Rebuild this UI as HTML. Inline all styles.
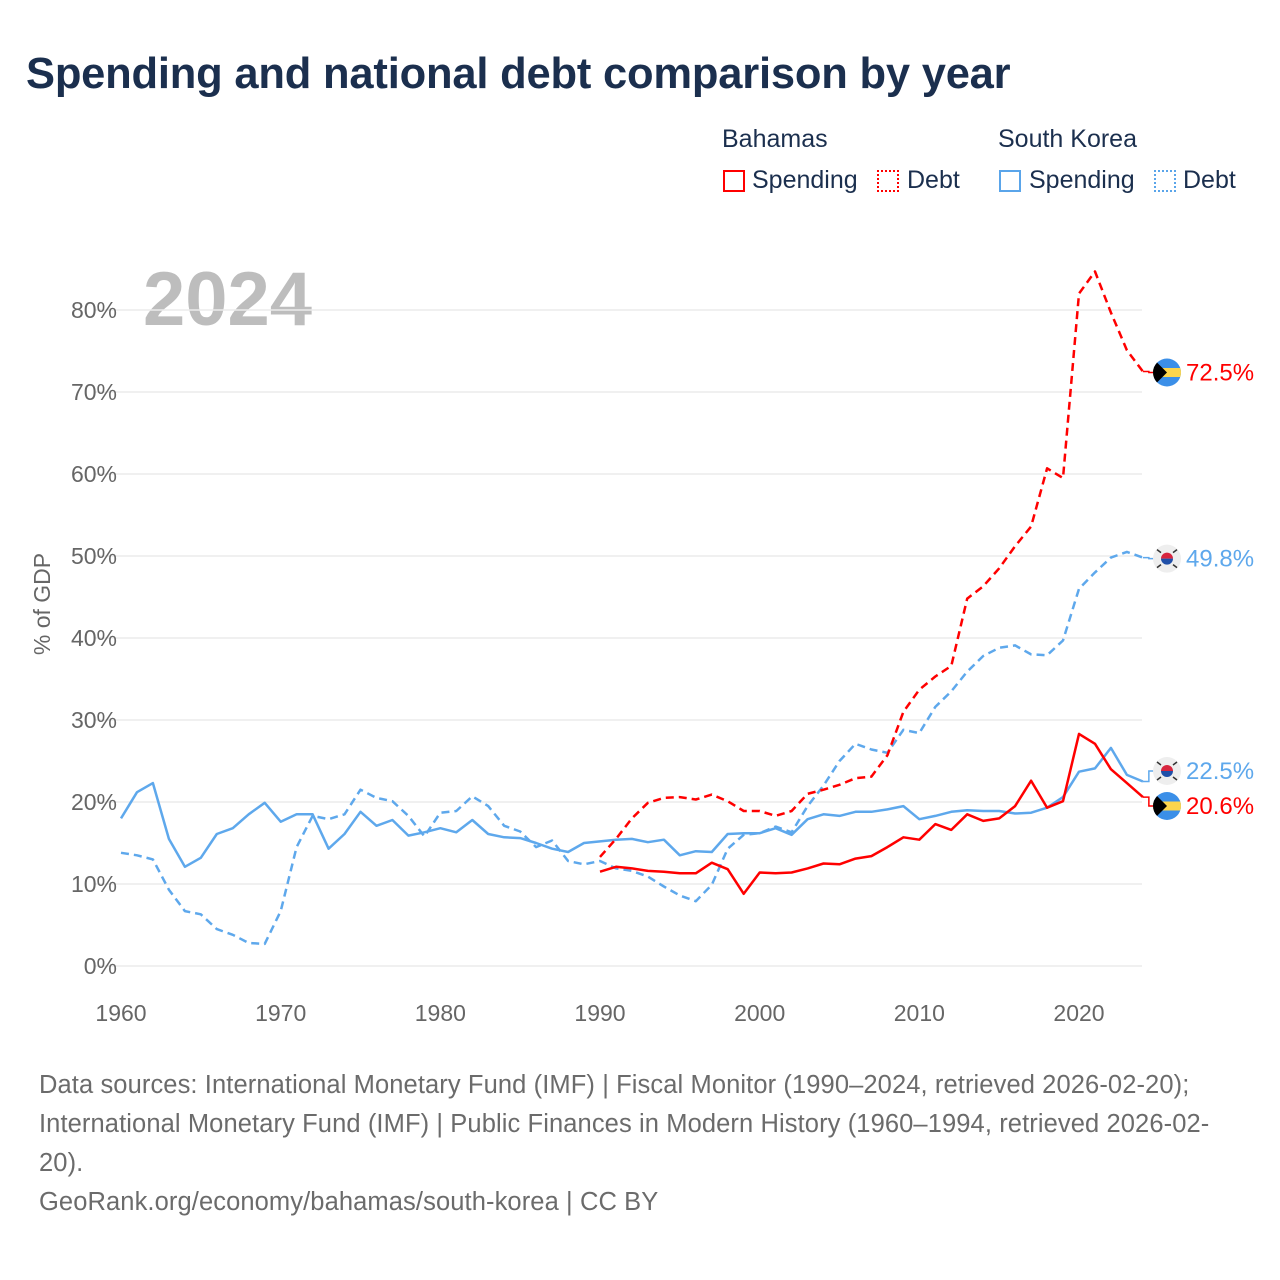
<!DOCTYPE html>
<html><head><meta charset="utf-8"><style>
body{margin:0;background:#fff;font-family:"Liberation Sans",sans-serif;}
#wrap{position:relative;width:1280px;height:1280px;overflow:hidden;}
h1{position:absolute;left:26px;top:50px;margin:0;font-size:43.5px;font-weight:bold;color:#1b2f4e;letter-spacing:-0.2px;}
.lg{position:absolute;font-size:25px;color:#1b2f4e;}
.sw{position:absolute;width:22px;height:22px;box-sizing:border-box;}
#foot{position:absolute;left:39px;top:1066px;width:1230px;font-size:25.5px;line-height:39px;color:#6b6b6b;white-space:nowrap;letter-spacing:0.1px;}
</style></head><body>
<div id="wrap">
<h1>Spending and national debt comparison by year</h1>
<div class="lg" style="left:722px;top:125px">Bahamas</div>
<div class="lg" style="left:998px;top:125px">South Korea</div>
<div class="sw" style="left:723px;top:170px;border:2px solid #f00"></div>
<div class="lg" style="left:752px;top:166px">Spending</div>
<div class="sw" style="left:877px;top:170px;border:2px dotted #f00"></div>
<div class="lg" style="left:907px;top:166px">Debt</div>
<div class="sw" style="left:999px;top:170px;border:2px solid #5aa5ea"></div>
<div class="lg" style="left:1029px;top:166px">Spending</div>
<div class="sw" style="left:1154px;top:170px;border:2px dotted #5aa5ea"></div>
<div class="lg" style="left:1183px;top:166px">Debt</div>
<svg id="chart" width="1280" height="1280" style="position:absolute;left:0;top:0"></svg>
<div id="foot">Data sources: International Monetary Fund (IMF) | Fiscal Monitor (1990–2024, retrieved 2026-02-20);<br>International Monetary Fund (IMF) | Public Finances in Modern History (1960–1994, retrieved 2026-02-<br>20).<br>GeoRank.org/economy/bahamas/south-korea | CC BY</div>
</div>
<script>
const yTicks=[0,10,20,30,40,50,60,70,80];
const xTicks=[1960,1970,1980,1990,2000,2010,2020];
const korStartYear=1960, bahStartYear=1990;
const korSpending=[18.0,21.2,22.3,15.5,12.1,13.2,16.1,16.8,18.5,19.9,17.6,18.5,18.5,14.3,16.1,18.8,17.1,17.8,15.9,16.3,16.8,16.3,17.8,16.1,15.7,15.6,15.0,14.3,13.9,15.0,15.2,15.4,15.5,15.1,15.4,13.5,14.0,13.9,16.1,16.2,16.2,16.8,16.0,17.9,18.5,18.3,18.8,18.8,19.1,19.5,17.9,18.3,18.8,19.0,18.9,18.9,18.6,18.7,19.3,20.6,23.7,24.1,26.6,23.3,22.5];
const korDebt=[13.8,13.5,13.0,9.3,6.7,6.3,4.5,3.8,2.8,2.7,6.7,14.5,18.3,17.9,18.5,21.5,20.5,20.1,18.3,15.8,18.7,18.9,20.7,19.5,17.1,16.4,14.5,15.3,12.8,12.4,12.8,11.9,11.6,10.9,9.7,8.6,7.9,9.9,14.3,16.0,16.2,17.0,16.3,19.5,22.0,25.0,27.1,26.4,26.0,28.8,28.4,31.6,33.5,35.9,37.8,38.8,39.1,38.0,37.9,39.7,46.0,48.0,49.8,50.5,49.8];
const bahSpending=[11.5,12.1,11.9,11.6,11.5,11.3,11.3,12.6,11.8,8.8,11.4,11.3,11.4,11.9,12.5,12.4,13.1,13.4,14.5,15.7,15.4,17.3,16.6,18.5,17.7,18.0,19.5,22.6,19.3,20.1,28.3,27.1,24.0,22.3,20.6];
const bahDebt=[13.3,15.5,18.0,19.9,20.5,20.6,20.3,20.9,20.1,18.9,18.9,18.3,18.9,21.0,21.5,22.1,22.9,23.1,25.7,31.0,33.7,35.3,36.6,44.8,46.3,48.5,51.2,53.6,60.7,59.5,82.0,84.7,79.7,75.1,72.5];
const X=y=>121+(y-1960)*(1079-121)/60;
const Y=v=>966-v*8.2;
const svg=document.getElementById('chart');
const NS='http://www.w3.org/2000/svg';
function mk(t,a){const e=document.createElementNS(NS,t);for(const k in a)e.setAttribute(k,a[k]);svg.appendChild(e);return e;}
const yr=mk('text',{x:143,y:325,'font-size':76,'font-weight':'bold',fill:'#bdbdbd'});yr.textContent='2024';


yTicks.forEach(t=>{
 const l=mk('line',{x1:95,x2:1142,y1:Y(t),y2:Y(t),stroke:'#ebebeb','stroke-width':1.5});
 
 
 const tx=mk('text',{x:117,y:Y(t)+8,'font-size':23,fill:'#666','text-anchor':'end'});tx.textContent=t+'%';
 
 
});
xTicks.forEach(t=>{
 const tx=mk('text',{x:X(t),y:1021,'font-size':23,fill:'#666','text-anchor':'middle'});tx.textContent=t;
 
 
});
const yt=mk('text',{x:0,y:0,'font-size':23,fill:'#666','text-anchor':'middle',transform:'translate(50,604) rotate(-90)'});yt.textContent='% of GDP';


function series(arr,start,color,dash,name){
 const d=arr.map((v,i)=>(i?'L':'M')+X(start+i).toFixed(1)+','+Y(v).toFixed(1)).join('');
 const p=mk('path',{d:d,fill:'none',stroke:color,'stroke-width':2.5,'stroke-linejoin':'round'});
 if(dash)p.setAttribute('stroke-dasharray','8,5');
 
 
}
series(korDebt,korStartYear,'#5ea8ec',true,'korea-debt-line');
series(korSpending,korStartYear,'#5ea8ec',false,'korea-spending-line');
series(bahDebt,bahStartYear,'#ff0000',true,'bahamas-debt-line');
series(bahSpending,bahStartYear,'#ff0000',false,'bahamas-spending-line');
function endLabel(v,ly,color,flag,name){
 const x0=X(2024);
 mk('path',{d:`M${x0},${Y(v)}H${x0+6}V${ly}H${x0+12}`,fill:'none',stroke:color,'stroke-width':1.5});
 const cx=1167;
 const g=document.createElementNS(NS,'g');svg.appendChild(g);
 
 
 if(flag==='bah'){
  g.innerHTML=`<clipPath id="c${name}"><circle cx="${cx}" cy="${ly}" r="14"/></clipPath><g clip-path="url(#c${name})"><rect x="${cx-14}" y="${ly-14}" width="28" height="28" fill="#3b8fe8"/><rect x="${cx-14}" y="${ly-4.5}" width="28" height="9" fill="#fcd54c"/><polygon points="${cx-14},${ly-14} ${cx},${ly} ${cx-14},${ly+14}" fill="#000"/></g>`;
 } else {
  g.innerHTML=`<circle cx="${cx}" cy="${ly}" r="14" fill="#eeeeee"/><path d="M${cx-6},${ly} a6,6 0 0,1 12,0z" fill="#d8253e"/><path d="M${cx-6},${ly} a6,6 0 0,0 12,0z" fill="#1f4fa8"/><g stroke="#333" stroke-width="1.5"><line x1="${cx-10}" y1="${ly-9}" x2="${cx-6}" y2="${ly-6}"/><line x1="${cx+6}" y1="${ly-6}" x2="${cx+10}" y2="${ly-9}"/><line x1="${cx-10}" y1="${ly+9}" x2="${cx-6}" y2="${ly+6}"/><line x1="${cx+6}" y1="${ly+6}" x2="${cx+10}" y2="${ly+9}"/></g>`;
 }
 const t=mk('text',{x:1186,y:ly+8,'font-size':24,fill:color});t.textContent=v.toFixed(1)+'%';
 
 
}
endLabel(bahDebt[bahDebt.length-1],Y(72.5)+1,'#ff0000','bah','bahamas-debt');
endLabel(korDebt[korDebt.length-1],Y(49.8)+1,'#5ea8ec','kor','korea-debt');
endLabel(korSpending[korSpending.length-1],771,'#5ea8ec','kor','korea-spending');
endLabel(bahSpending[bahSpending.length-1],806,'#ff0000','bah','bahamas-spending');
</script>
</body></html>
